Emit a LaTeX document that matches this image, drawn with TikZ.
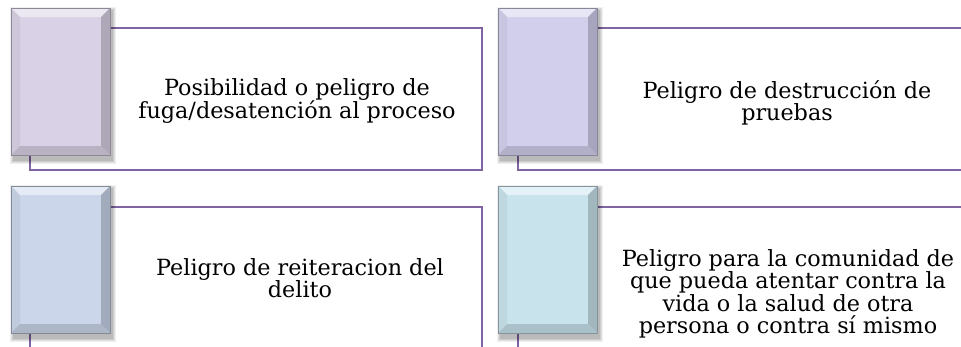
\documentclass[tikz,border=0pt]{standalone}
\usepackage{fontspec}
\usetikzlibrary{calc}
\newfontfamily\dvserif{DejaVu Serif}
\definecolor{frameclr}{HTML}{8064A2}
\definecolor{fillA}{HTML}{D9D1E5}
\definecolor{fillB}{HTML}{D1CFEC}
\definecolor{fillC}{HTML}{CBD6EA}
\definecolor{fillD}{HTML}{C9E3EC}
\tikzset{
  framepath/.style={draw=frameclr, line width=1.6pt},
  bevbox/.style={minimum width=99pt, minimum height=147pt, inner sep=0pt, outer sep=0pt, anchor=north west, draw=none},
  txt/.style={align=center, inner sep=0pt, font=\dvserif\fontsize{22.3}{22.5}\selectfont, text=black}
}
% bevelled box: #1 name, #2 colour
\newcommand\mybevel[2]{%
  \foreach \k/\o in {4/0.06,3/0.07,2/0.08,1/0.09}{%
    \fill[black, opacity=\o] ($(#1.north west)+(3-\k,3-\k)$) rectangle ($(#1.south east)+(2+\k,5+\k)$);
  }
  \fill[#2] (#1.north west) rectangle (#1.south east);
  \fill[#2!50!white] (#1.north west) -- (#1.north east) -- ($(#1.north east)+(-9,9)$) -- ($(#1.north west)+(9,9)$) -- cycle;
  \fill[#2!95!black] (#1.north west) -- ($(#1.north west)+(9,9)$) -- ($(#1.south west)+(9,-9)$) -- (#1.south west) -- cycle;
  \fill[#2!80!black] (#1.north east) -- ($(#1.north east)+(-9,9)$) -- ($(#1.south east)+(-9,-9)$) -- (#1.south east) -- cycle;
  \fill[#2!85!black] (#1.south west) -- ($(#1.south west)+(9,-9)$) -- ($(#1.south east)+(-9,-9)$) -- (#1.south east) -- cycle;
  \draw[#2!65!black, line width=0.8pt] (#1.north west) rectangle (#1.south east);
}
\begin{document}
\begin{tikzpicture}[x=1pt, y=-1pt]
\useasboundingbox (0,0) rectangle (961,346);
\fill[white] (0,0) rectangle (961,346);
\clip (0,0) rectangle (961,346);

% frame corner coordinates
\coordinate (f1ne) at (482,28);  \coordinate (f1se) at (482,170); \coordinate (f1sw) at (30,170);
\coordinate (f2ne) at (975,28);  \coordinate (f2se) at (975,170); \coordinate (f2sw) at (518,170);
\coordinate (f3ne) at (482,207); \coordinate (f3se) at (482,360); \coordinate (f3sw) at (30,360);
\coordinate (f4ne) at (975,207); \coordinate (f4se) at (975,360); \coordinate (f4sw) at (518,360);

% bevel boxes
\node[bevbox] (b1) at (11,8) {};
\node[bevbox] (b2) at (498,8) {};
\node[bevbox] (b3) at (11,186) {};
\node[bevbox] (b4) at (498,186) {};

% frames
\draw[framepath] (b1.east |- f1ne) -- (f1ne) -- (f1se) -- (f1sw) -- (f1sw |- b1.south);
\draw[framepath] (b2.east |- f2ne) -- (f2ne) -- (f2se) -- (f2sw) -- (f2sw |- b2.south);
\draw[framepath] (b3.east |- f3ne) -- (f3ne) -- (f3se) -- (f3sw) -- (f3sw |- b3.south);
\draw[framepath] (b4.east |- f4ne) -- (f4ne) -- (f4se) -- (f4sw) -- (f4sw |- b4.south);

\mybevel{b1}{fillA}
\mybevel{b2}{fillB}
\mybevel{b3}{fillC}
\mybevel{b4}{fillD}

% texts
\node[txt] (t1) at (297,101) {Posibilidad o peligro de\\fuga/desatención al proceso};
\node[txt] (t2) at (787,103) {Peligro de destrucción de\\pruebas};
\node[txt] (t3) at (300,278) {Peligro de reiteracion del\\delito};
\node[txt] (t4) at (788,294) {Peligro para la comunidad de\\que pueda atentar contra la\\vida o la salud de otra\\persona o contra sí mismo};
\end{tikzpicture}
\end{document}
